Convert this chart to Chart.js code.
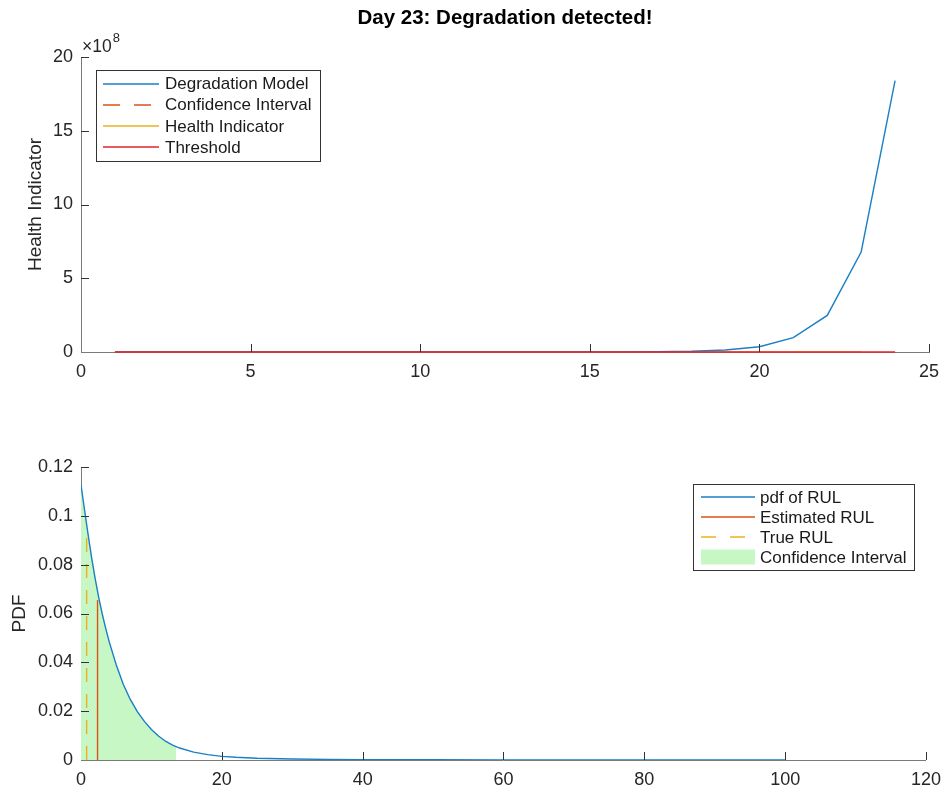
<!DOCTYPE html>
<html>
<head>
<meta charset="utf-8">
<script src="https://cdn.jsdelivr.net/npm/chart.js@4.4.0/dist/chart.umd.min.js"></script>
<style>
html, body { margin: 0; padding: 0; background: #fff; }
#wrap { position: relative; width: 950px; height: 791px; }
#health-chart { position: absolute; left: 0; top: 0; }
#rul-chart { position: absolute; left: 0; top: 410px; }
</style>
</head>
<body>
<div id="wrap">
  <canvas id="health-chart" width="950" height="400"></canvas>
  <canvas id="rul-chart" width="950" height="381"></canvas>
</div>
<script>
// ---- top panel data (day -> health indicator) ----
const plotTitle = 'Day 23: Degradation detected!';
const days = [1, 2, 3, 4, 5, 6, 7, 8, 9, 10, 11, 12, 13, 14, 15, 16, 17, 18, 19, 20, 21, 22, 23, 24];
const degradationModel = [0.2, 0.6, 1.5, 4.1, 11, 30, 83, 225, 610, 1700, 4500, 12000, 33000, 90000,
  240000, 660000, 1800000, 5000000, 14000000, 36000000, 97000000, 248000000, 678000000, 1840000000];
const healthDays = [1, 2, 3, 4, 5, 6, 7, 8, 9, 10, 11, 12, 13, 14, 15, 16, 17, 18, 19, 20, 21, 22, 23];
const healthIndicator = [0.3, 0.3, 0.4, 0.4, 0.5, 0.5, 0.6, 0.7, 0.8, 0.9, 1.0, 1.2, 1.4, 1.6, 1.9, 2.2, 2.6, 3.1, 3.7, 4.4, 5.2, 6.2, 7.4];
const confidenceDays = [];
const confidenceBound = [];
const thresholdDays = [1, 24];
const thresholdValue = [0, 0];
const dayTicks = [0, 25, 5];          // min, max, step
const healthTicks = [0, 2e9, 5e8];
const healthExponent = 8;

// ---- bottom panel data (RUL -> pdf) ----
const rulGrid = [0, 0.5, 1, 1.5, 2, 2.5, 3, 3.5, 4, 5, 6, 7, 8, 9, 10, 11, 12, 13, 14, 16, 18, 20, 22, 25, 30, 35, 40, 50, 60, 70, 80, 90, 100];
const pdfValues = [0.1127, 0.1025, 0.0925, 0.0830, 0.0745, 0.0668, 0.0600, 0.0540, 0.0485, 0.0390, 0.0310, 0.0248,
  0.0198, 0.0158, 0.0125, 0.0098, 0.0077, 0.0061, 0.0049, 0.0032, 0.0022, 0.0015, 0.0011, 0.0007, 0.0004,
  0.00025, 0.00017, 0.00009, 0.00005, 0.00003, 0.00002, 0.000015, 0.00001];
const ciRul = [0, 0.5, 1, 1.5, 2, 2.5, 3, 3.5, 4, 5, 6, 7, 8, 9, 10, 11, 12, 13, 13.5];
const ciPdf = [0.1127, 0.1025, 0.0925, 0.0830, 0.0745, 0.0668, 0.0600, 0.0540, 0.0485, 0.0390, 0.0310, 0.0248,
  0.0198, 0.0158, 0.0125, 0.0098, 0.0077, 0.0061, 0.0055];
const estimatedRul = [2.35, 2.35];
const estimatedPdf = [0, 0.0655];
const trueRul = [0.8, 0.8];
const truePdf = [0, 0.096];
const rulTicks = [0, 120, 20];
const pdfTicks = [0, 0.12, 0.02];

const FONT = '"Liberation Sans", Arial, Helvetica, sans-serif';
const BLUE = '#1a7fc4', ORANGE = '#D95319', YELLOW = '#EDB120', RED = '#e3242b', GREEN = '#c6f7c4';

function pts(xs, ys) {
    return xs.map(function (x, i) { return {x: x, y: ys[i]}; });
}

// MATLAB style ticks pointing into the axes
const inwardTicks = {
    id: 'inwardTicks',
    afterDatasetsDraw(chart) {
        const ctx = chart.ctx, a = chart.chartArea, sx = chart.scales.x, sy = chart.scales.y;
        ctx.save();
        ctx.strokeStyle = '#333';
        ctx.lineWidth = 1;
        ctx.beginPath();
        sx.ticks.forEach(function (t) {
            if (t.value === sx.min) return;
            const px = Math.round(sx.getPixelForValue(t.value)) + 0.5;
            ctx.moveTo(px, a.bottom);
            ctx.lineTo(px, a.bottom - 8);
        });
        sy.ticks.forEach(function (t) {
            if (t.value === sy.min) return;
            const py = Math.round(sy.getPixelForValue(t.value)) + 0.5;
            ctx.moveTo(a.left, py);
            ctx.lineTo(a.left + 8, py);
        });
        ctx.stroke();
        ctx.restore();
    }
};

// boxed legend inside the axes
const boxLegend = {
    id: 'boxLegend',
    afterDraw(chart, args, o) {
        const ctx = chart.ctx, a = chart.chartArea;
        const items = chart.data.datasets.filter(function (d) { return d.label; });
        ctx.save();
        ctx.font = '17px ' + FONT;
        const textW = Math.max.apply(null, items.map(function (d) { return ctx.measureText(d.label).width; }));
        const w = Math.round(o.padL + o.sample + o.gap + textW + o.padR);
        const h = Math.round(items.length * o.row + o.padV * 2);
        const left = Math.round(o.side === 'right' ? a.right - o.dx - w : a.left + o.dx);
        const top = Math.round(a.top + o.dy);
        ctx.fillStyle = '#fff';
        ctx.fillRect(left, top, w, h);
        ctx.strokeStyle = '#333';
        ctx.lineWidth = 1;
        ctx.strokeRect(left + 0.5, top + 0.5, w, h);
        items.forEach(function (d, i) {
            const cy = top + o.padV + o.row * (i + 0.5);
            const x0 = left + o.padL;
            if (d.fill) {
                ctx.fillStyle = d.backgroundColor;
                ctx.fillRect(x0, cy - 7.5, o.sample, 15);
            } else {
                ctx.strokeStyle = d.borderColor;
                ctx.lineWidth = 1.7;
                ctx.setLineDash(d.borderDash ? o.dash : []);
                ctx.beginPath();
                ctx.moveTo(x0, Math.round(cy));
                ctx.lineTo(x0 + o.sample, Math.round(cy));
                ctx.stroke();
                ctx.setLineDash([]);
            }
            ctx.fillStyle = '#1a1a1a';
            ctx.textBaseline = 'middle';
            ctx.textAlign = 'left';
            ctx.fillText(d.label, x0 + o.sample + o.gap, cy + 1);
        });
        ctx.restore();
    }
};

// title and the x10^8 multiplier
const panelText = {
    id: 'panelText',
    afterDraw(chart, args, o) {
        if (!o.title) return;
        const ctx = chart.ctx, a = chart.chartArea;
        ctx.save();
        ctx.fillStyle = '#000';
        ctx.textAlign = 'center';
        ctx.textBaseline = 'middle';
        ctx.font = 'bold 20.5px ' + FONT;
        ctx.fillText(o.title, (a.left + a.right) / 2, 18);
        ctx.fillStyle = '#262626';
        ctx.textAlign = 'left';
        ctx.textBaseline = 'alphabetic';
        ctx.font = '17.5px ' + FONT;
        ctx.fillText('\u00d710', a.left + 1, a.top - 5);
        const w = ctx.measureText('\u00d710').width;
        ctx.font = '13px ' + FONT;
        ctx.fillText(String(o.exponent), a.left + 2 + w, a.top - 15);
        ctx.restore();
    }
};

function axes(xr, yr, yTitle, titlePad, xH, yFmt) {
    const tickFont = {family: FONT, size: 18};
    return {
        x: {
            type: 'linear', min: xr[0], max: xr[1],
            grid: {display: false, drawTicks: false},
            border: {display: true, color: '#7a7a7a', width: 1},
            ticks: {stepSize: xr[2], color: '#262626', font: tickFont, padding: 9, maxRotation: 0},
            afterFit: function (s) { s.height = xH; }
        },
        y: {
            type: 'linear', min: yr[0], max: yr[1],
            grid: {display: false, drawTicks: false},
            border: {display: true, color: '#7a7a7a', width: 1},
            ticks: {stepSize: yr[2], color: '#262626', font: tickFont, padding: 8, callback: yFmt},
            title: {display: true, text: yTitle, color: '#262626', font: {family: FONT, size: 19}, padding: {top: titlePad, bottom: 0}},
            afterFit: function (s) { s.width = 81; }
        }
    };
}

Chart.defaults.font.family = FONT;

const ctx_health = document.getElementById('health-chart').getContext('2d');
new Chart(ctx_health, {
    type: 'line',
    data: {
        datasets: [
            {label: 'Degradation Model', data: pts(days, degradationModel), borderColor: BLUE, borderWidth: 1.4, order: 2},
            {label: 'Confidence Interval', data: pts(confidenceDays, confidenceBound), borderColor: ORANGE, borderWidth: 1.2, borderDash: [14, 12], order: 3},
            {label: 'Health Indicator', data: pts(healthDays, healthIndicator), borderColor: YELLOW, borderWidth: 1.4, order: 4},
            {label: 'Threshold', data: pts(thresholdDays, thresholdValue), borderColor: RED, borderWidth: 1.7, order: 0, clip: false}
        ]
    },
    plugins: [inwardTicks, boxLegend, panelText],
    options: {
        responsive: false,
        animation: false,
        devicePixelRatio: 1,
        elements: {point: {radius: 0}, line: {tension: 0, fill: false}},
        layout: {padding: {top: 57, left: 0, right: 21, bottom: 0}},
        scales: axes(dayTicks, healthTicks, 'Health Indicator', 24, 48, function (v) {
            return v / Math.pow(10, healthExponent);
        }),
        plugins: {
            legend: {display: false},
            tooltip: {enabled: false},
            boxLegend: {side: 'left', dx: 15, dy: 13, padL: 7, sample: 56, gap: 6, padR: 9, padV: 3, row: 21.2, dash: [17, 14]},
            panelText: {title: plotTitle, exponent: healthExponent}
        }
    }
});

const ctx_rul = document.getElementById('rul-chart').getContext('2d');
new Chart(ctx_rul, {
    type: 'line',
    data: {
        datasets: [
            {label: 'pdf of RUL', data: pts(rulGrid, pdfValues), borderColor: BLUE, borderWidth: 1.4, order: 0},
            {label: 'Estimated RUL', data: pts(estimatedRul, estimatedPdf), borderColor: ORANGE, borderWidth: 1.4, order: 1},
            {label: 'True RUL', data: pts(trueRul, truePdf), borderColor: YELLOW, borderWidth: 1.4, borderDash: [14, 12], order: 2},
            {label: 'Confidence Interval', data: pts(ciRul, ciPdf), borderWidth: 0, borderColor: 'rgba(0,0,0,0)', backgroundColor: GREEN, fill: 'origin', order: 3}
        ]
    },
    plugins: [inwardTicks, boxLegend],
    options: {
        responsive: false,
        animation: false,
        devicePixelRatio: 1,
        elements: {point: {radius: 0}, line: {tension: 0}},
        layout: {padding: {top: 57, left: 0, right: 21, bottom: 0}},
        scales: axes(rulTicks, pdfTicks, 'PDF', 8, 31),
        plugins: {
            legend: {display: false},
            tooltip: {enabled: false},
            filler: {propagate: false},
            boxLegend: {side: 'right', dx: 12, dy: 17, padL: 8, sample: 54, gap: 5, padR: 8, padV: 3, row: 20, dash: [15, 14]}
        }
    }
});
</script>
</body>
</html>
